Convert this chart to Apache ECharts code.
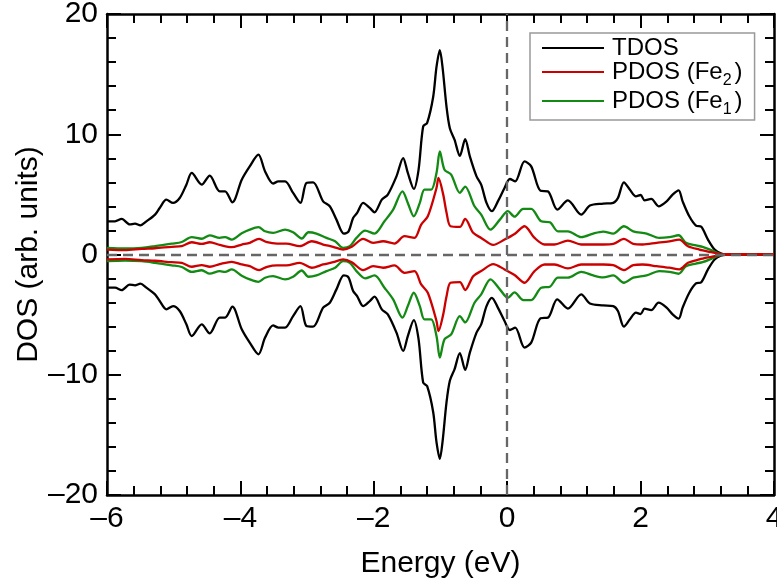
<!DOCTYPE html>
<html>
<head>
<meta charset="utf-8">
<script src="https://cdn.jsdelivr.net/npm/echarts@6/dist/echarts.min.js"></script>
<style>body{margin:0} #dosChart{width:777px;height:581px}</style>
</head>
<body>
<div id="dosChart"></div>
<script>
// energy grid (eV) and DOS values, one set per curve
var tdosE = [-6.0,-5.88,-5.78,-5.66,-5.58,-5.5,-5.41,-5.28,-5.21,-5.11,-5.01,-4.91,-4.81,-4.73,-4.58,-4.46,-4.31,-4.23,-4.12,-3.98,-3.86,-3.73,-3.63,-3.51,-3.43,-3.33,-3.21,-3.1,-3.01,-2.91,-2.76,-2.66,-2.56,-2.45,-2.38,-2.31,-2.25,-2.16,-2.06,-1.99,-1.88,-1.79,-1.66,-1.56,-1.49,-1.4,-1.33,-1.26,-1.2,-1.11,-1.06,-1.01,-0.97,-0.91,-0.86,-0.79,-0.71,-0.63,-0.56,-0.46,-0.39,-0.31,-0.23,-0.14,-0.04,0.04,0.12,0.26,0.36,0.5,0.61,0.75,0.91,1.11,1.24,1.44,1.59,1.66,1.75,1.84,1.93,2.0,2.06,2.16,2.27,2.39,2.48,2.57,2.63,2.73,2.83,2.91,3.01,3.11,3.21,3.3,4.0];
var tdosUp = [2.76,2.76,2.96,2.5,2.57,2.43,2.76,3.32,3.87,4.56,4.29,4.7,5.81,6.78,5.81,6.56,5.25,5.25,4.34,6.22,7.33,8.3,6.91,5.9,6.08,6.08,5.12,4.29,5.95,6.0,4.42,4.01,2.9,1.74,1.9,3.04,3.46,4.29,3.87,3.51,4.56,4.98,6.5,8.02,6.78,5.45,7.0,10.65,10.95,13.1,15.6,17.0,15.6,12.3,10.5,9.55,8.2,9.6,8.16,6.5,5.81,4.29,3.6,4.42,5.53,6.28,6.08,7.74,7.33,5.3,5.25,3.73,4.5,3.32,4.07,4.23,4.3,4.7,6.0,5.39,4.84,4.95,4.5,4.62,4.01,4.42,4.98,5.34,4.42,3.18,2.41,2.3,1.24,0.41,0.08,0,0];
var tdosDown = [-2.76,-2.76,-2.96,-2.5,-2.57,-2.43,-2.76,-3.32,-3.87,-4.56,-4.29,-4.7,-5.81,-6.78,-5.81,-6.56,-5.25,-5.25,-4.34,-6.22,-7.33,-8.3,-6.91,-5.9,-6.08,-6.08,-5.12,-4.29,-5.95,-6.0,-4.42,-4.01,-2.9,-1.74,-1.9,-3.04,-3.46,-4.29,-3.87,-3.51,-4.56,-4.98,-6.5,-8.02,-6.78,-5.45,-7.0,-10.65,-10.95,-13.1,-15.6,-17.0,-15.6,-12.3,-10.5,-9.55,-8.2,-9.6,-8.16,-6.5,-5.81,-4.29,-3.6,-4.42,-5.53,-6.28,-6.08,-7.74,-7.33,-5.3,-5.25,-3.73,-4.5,-3.32,-4.07,-4.23,-4.3,-4.7,-6.0,-5.39,-4.84,-4.95,-4.5,-4.62,-4.01,-4.42,-4.98,-5.34,-4.42,-3.18,-2.41,-2.3,-1.24,-0.41,-0.08,0,0];

var fe1E = [-6.0,-5.73,-5.48,-5.28,-5.03,-4.88,-4.73,-4.58,-4.46,-4.31,-4.23,-4.13,-3.98,-3.86,-3.73,-3.63,-3.51,-3.33,-3.21,-3.08,-2.98,-2.86,-2.71,-2.58,-2.46,-2.36,-2.26,-2.13,-1.99,-1.84,-1.71,-1.57,-1.49,-1.4,-1.31,-1.24,-1.14,-1.06,-1.01,-0.94,-0.84,-0.71,-0.63,-0.49,-0.39,-0.25,-0.11,0.01,0.11,0.24,0.36,0.51,0.64,0.76,0.91,1.11,1.29,1.44,1.59,1.75,1.89,2.09,2.28,2.43,2.57,2.68,2.83,2.93,3.06,3.18,3.3,4.0];
var fe1Up = [0.55,0.5,0.55,0.69,0.9,1.04,1.45,1.31,1.59,1.38,1.45,1.24,1.76,2.07,2.27,1.93,1.8,2.07,1.85,1.33,1.85,1.74,1.38,1.1,0.55,0.69,1.38,1.99,1.74,2.76,3.73,5.25,4.29,3.18,4.29,5.39,5.39,6.78,8.57,7.05,6.64,5.12,5.65,4.01,3.32,2.07,2.9,3.6,3.15,3.79,3.79,2.76,2.68,1.93,1.93,1.44,1.74,1.9,1.74,2.35,1.93,1.74,1.38,1.44,1.6,0.97,0.75,0.64,0.36,0.08,0,0];
var fe1Down = [-0.55,-0.5,-0.55,-0.69,-0.9,-1.04,-1.45,-1.31,-1.59,-1.38,-1.45,-1.24,-1.76,-2.07,-2.27,-1.93,-1.8,-2.07,-1.85,-1.33,-1.85,-1.74,-1.38,-1.1,-0.55,-0.69,-1.38,-1.99,-1.74,-2.76,-3.73,-5.25,-4.29,-3.18,-4.29,-5.39,-5.39,-6.78,-8.57,-7.05,-6.64,-5.12,-5.65,-4.01,-3.32,-2.07,-2.9,-3.6,-3.15,-3.79,-3.79,-2.76,-2.68,-1.93,-1.93,-1.44,-1.74,-1.9,-1.74,-2.35,-1.93,-1.74,-1.38,-1.44,-1.6,-0.97,-0.75,-0.64,-0.36,-0.08,0,0];

var fe2E = [-6.0,-5.73,-5.48,-5.28,-5.03,-4.88,-4.73,-4.58,-4.46,-4.31,-4.13,-3.98,-3.86,-3.72,-3.6,-3.45,-3.31,-3.11,-2.93,-2.76,-2.61,-2.46,-2.33,-2.16,-2.01,-1.86,-1.69,-1.54,-1.39,-1.29,-1.19,-1.06,-1.03,-0.96,-0.91,-0.85,-0.71,-0.63,-0.51,-0.39,-0.21,-0.04,0.11,0.26,0.41,0.56,0.71,0.91,1.11,1.44,1.59,1.75,1.89,2.03,2.24,2.43,2.58,2.71,2.88,3.06,3.18,3.3,4.0];
var fe2Up = [0.41,0.36,0.47,0.52,0.64,0.69,1.02,0.88,1.02,0.8,0.61,0.83,0.97,1.3,1.02,0.9,0.91,0.69,1.1,0.83,0.64,0.41,0.64,1.3,0.97,1.1,0.91,1.52,1.38,2.49,3.18,5.53,6.36,5.0,3.5,2.35,2.29,2.96,1.8,1.38,0.8,1.24,1.7,2.35,1.38,0.83,0.83,1.16,0.83,0.83,0.88,1.3,0.88,0.83,0.97,1.1,1.24,0.69,0.41,0.19,0.05,0,0];
var fe2Down = [-0.41,-0.36,-0.47,-0.52,-0.64,-0.69,-1.02,-0.88,-1.02,-0.8,-0.61,-0.83,-0.97,-1.3,-1.02,-0.9,-0.91,-0.69,-1.1,-0.83,-0.64,-0.41,-0.64,-1.3,-0.97,-1.1,-0.91,-1.52,-1.38,-2.49,-3.18,-5.53,-6.36,-5.0,-3.5,-2.35,-2.29,-2.96,-1.8,-1.38,-0.8,-1.24,-1.7,-2.35,-1.38,-0.83,-0.83,-1.16,-0.83,-0.83,-0.88,-1.3,-0.88,-0.83,-0.97,-1.1,-1.24,-0.69,-0.41,-0.19,-0.05,0,0];

var legendNames = ['TDOS', 'PDOS (Fe2)', 'PDOS (Fe1)'];

var FONT = '"Liberation Sans", Arial, sans-serif';

function pairs(xs, ys) {
    return xs.map(function (x, i) { return [x, ys[i]]; });
}

// one side of the box frame: inward major + minor ticks
function ax(pos, min, max, iv, lab) {
    return {
        type: 'value', position: pos, min: min, max: max, interval: iv,
        nameMoveOverlap: false,
        axisLine: { show: true, onZero: false, lineStyle: { color: '#000', width: 2.5 } },
        axisTick: { show: true, inside: true, length: 14, lineStyle: { color: '#000', width: 2 } },
        minorTick: { show: true, splitNumber: 5, length: 9, lineStyle: { color: '#000', width: 2 } },
        splitLine: { show: false },
        axisLabel: lab ? {
            show: true, color: '#000', fontSize: 30, fontFamily: FONT, margin: 9,
            formatter: function (v) { return v < 0 ? '\u2013' + Math.abs(v) : String(v); }
        } : { show: false }
    };
}

var x0 = ax('bottom', -6, 4, 2, true);
x0.name = 'Energy (eV)'; x0.nameLocation = 'middle'; x0.nameGap = 54;
x0.nameTextStyle = { color: '#000', fontSize: 30, fontFamily: FONT };
var y0 = ax('left', -20, 20, 10, true);
y0.name = 'DOS (arb. units)'; y0.nameLocation = 'middle'; y0.nameGap = 63;
y0.nameTextStyle = { color: '#000', fontSize: 30, fontFamily: FONT };

function curve(name, color, xs, ys) {
    return {
        type: 'line', name: name, showSymbol: false, symbol: 'none', smooth: 0.3, animation: false,
        data: pairs(xs, ys),
        lineStyle: { color: color, width: 2.3 },
        itemStyle: { color: color }
    };
}

var tdosUpSeries = curve('TDOS', '#000000', tdosE, tdosUp);
tdosUpSeries.markLine = {
    silent: true, symbol: ['none', 'none'], label: { show: false },
    lineStyle: { color: '#666', type: [10, 6], width: 2.3 },
    data: [{ yAxis: 0 }, { xAxis: 0 }]
};

var dosChart = echarts.init(document.getElementById('dosChart'), null, { renderer: 'canvas' });
dosChart.setOption({
    backgroundColor: '#fff', animation: false,
    grid: { left: 107, right: 3, top: 14, bottom: 86, containLabel: false, outerBoundsMode: 'none' },
    legend: {
        data: legendNames, orient: 'vertical', left: 530, top: 33,
        icon: 'rect', itemWidth: 62, itemHeight: 2, itemGap: 0,
        padding: [3, 12, 2, 12],
        backgroundColor: '#fff', borderColor: '#999', borderWidth: 1.5, selectedMode: false,
        formatter: function (name) {
            if (name === 'PDOS (Fe2)') return '{n|PDOS (Fe}{s|2}{n|)}';
            if (name === 'PDOS (Fe1)') return '{n|PDOS (Fe}{s|1}{n|)}';
            return '{n|' + name + '}';
        },
        textStyle: {
            rich: {
                n: { fontSize: 24, fontFamily: FONT, color: '#000', padding: [0, 0, 0, 3] },
                s: { fontSize: 16, fontFamily: FONT, color: '#000', padding: [18, 0, 0, 0] }
            }
        }
    },
    xAxis: [x0, ax('top', -6, 4, 2, false)],
    yAxis: [y0, ax('right', -20, 20, 10, false)],
    series: [
        tdosUpSeries,
        curve('TDOS', '#000000', tdosE, tdosDown),
        curve('PDOS (Fe1)', '#138a13', fe1E, fe1Up),
        curve('PDOS (Fe1)', '#138a13', fe1E, fe1Down),
        curve('PDOS (Fe2)', '#cc0000', fe2E, fe2Up),
        curve('PDOS (Fe2)', '#cc0000', fe2E, fe2Down)
    ]
});

window.addEventListener('resize', function () {
    dosChart.resize();
});
</script>
</body>
</html>
